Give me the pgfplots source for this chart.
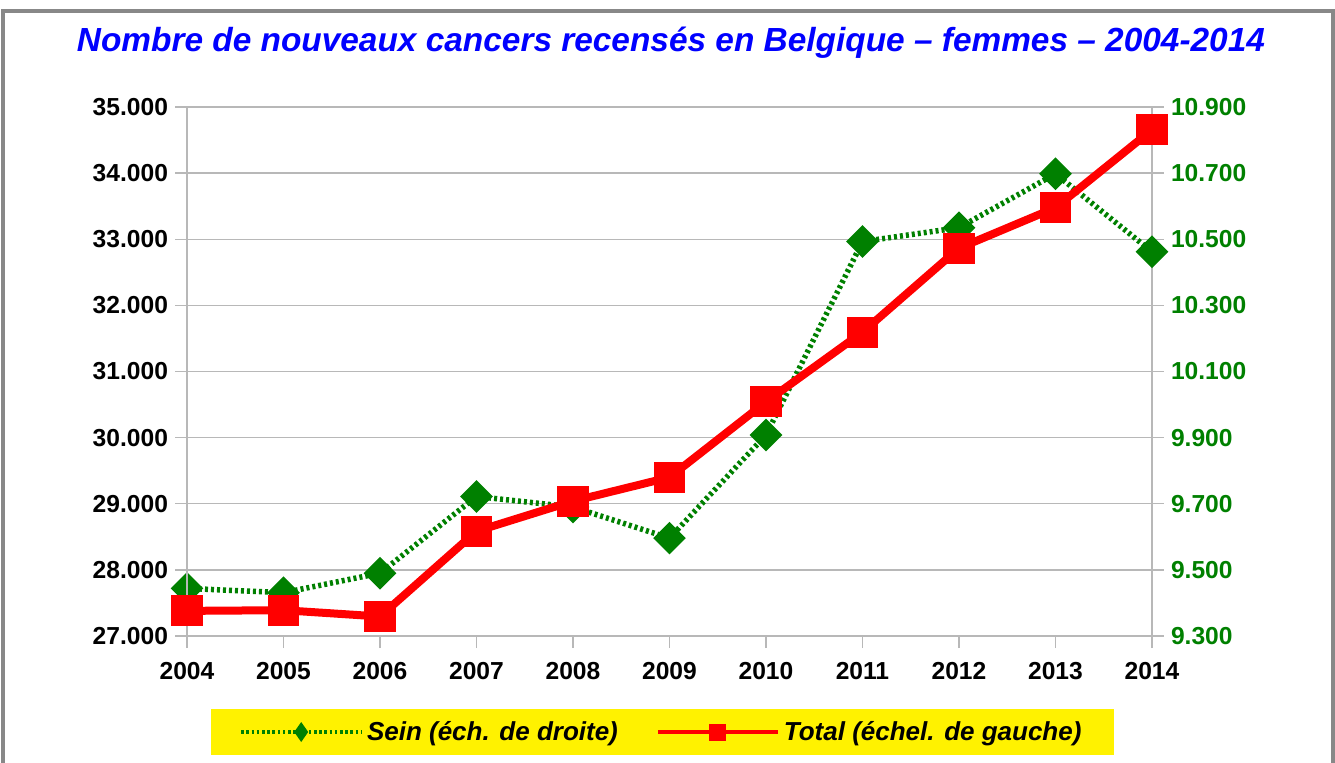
\documentclass[border=0pt]{standalone}
\usepackage{fontspec}
\setmainfont{Liberation Sans}
\usepackage{pgfplots}
\usepackage{pgfplotstable}
\pgfplotsset{compat=1.18}
\definecolor{sgreen}{HTML}{008000}
\definecolor{gridc}{HTML}{B8B8B8}
\definecolor{framec}{HTML}{888888}

\pgfplotstableread{
year total sein
2004 27380 9444
2005 27390 9431
2006 27295 9490
2007 28585 9722
2008 29040 9690
2009 29400 9596
2010 30541 9908
2011 31595 10493
2012 32865 10535
2013 33478 10698
2014 34655 10462
}\data

\begin{document}
\begin{tikzpicture}
\useasboundingbox (0,0) rectangle (667.5pt,381pt);
\draw[framec, line width=2pt] (1.7pt,-10pt) rectangle (666.5pt,375.5pt);
\node[anchor=base, text=blue, font=\fontsize{16.7}{20}\selectfont\bfseries\itshape, inner sep=0pt] at (335.5pt,355pt) {Nombre de nouveaux cancers recensés en Belgique – femmes – 2004-2014};
\pgfplotsset{
  common/.style={
    scale only axis, width=482.5pt, height=264.5pt,
    at={(93.5pt,63pt)}, anchor=south west,
    xmin=2004, xmax=2014, clip=false,
    xtick={2004,2005,...,2014},
    tick align=outside, major tick length=6pt,
    minor tick num=0,
    tick style={gridc, line width=0.7pt},
    axis line style={gridc, line width=0.7pt},
    ticklabel style={font=\fontsize{12.3}{14}\selectfont\bfseries},
    /pgf/number format/assume math mode=true,
    /pgf/number format/1000 sep={.},
    scaled y ticks=false,
    yticklabel style={/pgf/number format/fixed},
  }
}
\begin{axis}[common,
  axis y line*=right, axis x line=none,
  ymin=9300, ymax=10900, ytick={9300,9500,...,10900},
  ymajorgrids, grid style={gridc, line width=0.7pt},
  yticklabel style={text=sgreen},
]
\addplot[sgreen, line width=2.75pt, dash pattern=on 1.5pt off 1.5pt, mark=square*, mark size=4.4pt, mark options={solid, rotate=45, draw=none, fill=sgreen}] table[x=year,y=sein]{\data};
\end{axis}
\begin{axis}[common,
  axis y line*=left, axis x line*=bottom,
  ymin=27000, ymax=35000, ytick={27000,28000,...,35000},
  xticklabel style={/pgf/number format/1000 sep={}, yshift=-3.5pt},
  legend columns=2,
  legend style={fill=yellow, draw=none, at={(axis description cs:0.4927,-0.1815)}, anchor=center,
    font=\fontsize{13}{15}\selectfont\bfseries\itshape, inner xsep=14pt, inner ysep=4pt,
    /tikz/every even column/.append style={column sep=17pt}},
]
\addlegendimage{legend image code/.code={\draw[sgreen, line width=1.8pt, dash pattern=on 1.3pt off 1.3pt] (0pt,0pt) -- (60pt,0pt); \fill[sgreen, draw=none] (30pt,5pt) -- (33.5pt,0pt) -- (30pt,-5pt) -- (26.5pt,0pt) -- cycle;}}
\addlegendentry{Sein (éch. de droite)}
\addplot[red, line width=4pt, mark=square*, mark size=5.8pt, mark options={draw=none, fill=red},
  legend image code/.code={\draw[red, line width=2pt] (0pt,0pt) -- (60pt,0pt); \fill[red, draw=none] (25.75pt,-4.25pt) rectangle (34.25pt,4.25pt);}] table[x=year,y=total]{\data};
\addlegendentry{Total (échel. de gauche)}
\end{axis}
\end{tikzpicture}
\end{document}
